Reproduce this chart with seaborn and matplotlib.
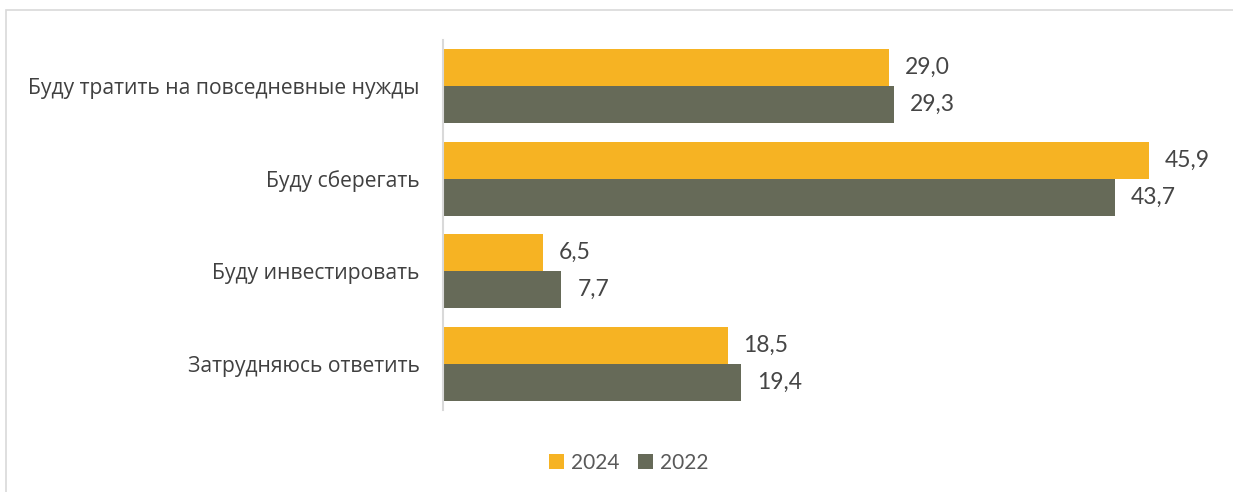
import matplotlib
matplotlib.use("Agg")
import matplotlib.pyplot as plt
from matplotlib.patches import Rectangle, Patch
import seaborn as sns
import pandas as pd

categories = [
    "Буду тратить на повседневные нужды",
    "Буду сберегать",
    "Буду инвестировать",
    "Затрудняюсь ответить",
]
values_2024 = [29.0, 45.9, 6.5, 18.5]
values_2022 = [29.3, 43.7, 7.7, 19.4]
series = ["2024", "2022"]
colors = ["#F6B323", "#666A58"]

df = pd.DataFrame({
    "category": categories * 2,
    "value": values_2024 + values_2022,
    "year": [series[0]] * len(categories) + [series[1]] * len(categories),
})

sns.set_theme(style="white")
plt.rcParams["font.family"] = ["Open Sans", "DejaVu Sans"]

W, H = 1233, 492
fig = plt.figure(figsize=(W / 100, H / 100), dpi=100)

# light frame around the chart area
fig.patches.append(Rectangle((6 / W, -0.1), 1.2, (H - 10) / H + 0.1,
                             transform=fig.transFigure, fill=False,
                             edgecolor="#D9D9D9", linewidth=1.2))

ax = fig.add_axes([443 / W, (H - 410) / H, 769 / W, 370 / H])
sns.barplot(data=df, y="category", x="value", hue="year", orient="h",
            palette=colors, hue_order=series, width=0.8, saturation=1,
            edgecolor="none", ax=ax, legend=False)

ax.set_xlim(0, 50)
ax.set_xlabel("")
ax.set_ylabel("")
ax.set_xticks([])
for s in ["top", "right", "bottom"]:
    ax.spines[s].set_visible(False)
ax.spines["left"].set_color("#D9D9D9")
ax.spines["left"].set_linewidth(1.5)
ax.tick_params(axis="y", length=0, pad=17, labelsize=15.2, labelcolor="#404040")

for cont in ax.containers:
    vals = [f"{v:.1f}".replace(".", ",") for v in cont.datavalues]
    ax.bar_label(cont, labels=vals, padding=11.5, fontsize=16.5,
                 color="#454545", family="Lato")

handles = [Patch(facecolor=c, edgecolor="none") for c in colors]
fig.legend(handles, series, loc="center", bbox_to_anchor=(629 / W, 1 - 463 / H),
           ncol=2, frameon=False, handlelength=0.7, handleheight=0.7,
           handletextpad=0.35, columnspacing=0.9,
           prop={"family": "Lato", "size": 15})
for t in fig.legends[0].get_texts():
    t.set_color("#595959")

fig.savefig("out.png", dpi=100, facecolor="white")
